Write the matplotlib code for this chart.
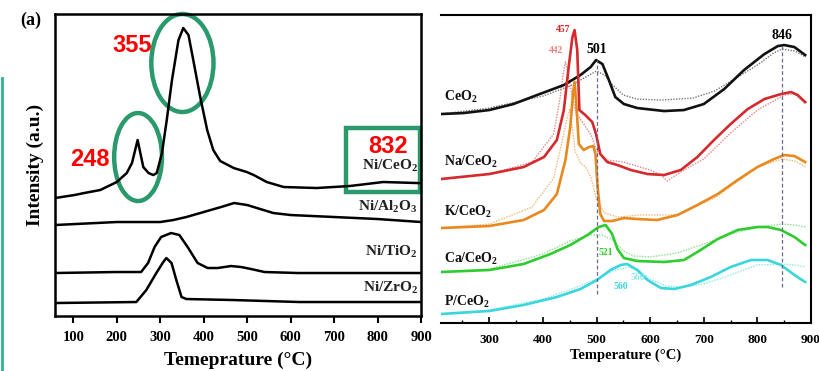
import matplotlib
matplotlib.use("Agg")
import matplotlib.pyplot as plt
from matplotlib.patches import Ellipse, Rectangle
from matplotlib.lines import Line2D
from matplotlib.ticker import MultipleLocator

plt.rcParams["font.family"] = ["Liberation Serif", "DejaVu Serif"]
plt.rcParams["font.weight"] = "bold"
plt.rcParams["mathtext.fontset"] = "custom"
plt.rcParams["mathtext.rm"] = "Liberation Serif:bold"
plt.rcParams["mathtext.default"] = "rm"

# ---- left panel: H2-TPR of Ni catalysts (T in degC, intensity a.u.) ----
ce_T = [58, 103, 125, 162, 200, 223, 235, 248, 261, 273, 284, 292, 304, 315, 327, 342, 353, 365, 376,
        392, 408, 422, 438, 469, 499, 515, 545, 584, 660, 736, 813, 890, 900]
ce_I = [118, 121, 123, 126, 134, 143, 153, 176, 149, 143, 141, 143, 163, 196, 236, 276, 288, 281, 256,
        219, 186, 166, 155, 148, 144, 141, 134, 129, 128, 130, 134, 133, 133]
al_T = [58, 200, 300, 330, 360, 400, 440, 470, 500, 530, 560, 600, 700, 800, 900]
al_I = [91, 94, 94, 96, 99, 104, 109, 113, 111, 107, 103, 101, 99, 97, 94]
ti_T = [58, 200, 256, 272, 287, 302, 325, 344, 363, 386, 409, 432, 463, 486, 509, 540, 617, 900]
ti_I = [43, 44, 44, 53, 69, 79, 83, 81, 69, 53, 48, 48, 50, 49, 47, 44, 43, 43]
zr_T = [58, 245, 268, 291, 307, 314, 326, 337, 349, 360, 467, 620, 900]
zr_I = [13, 14, 26, 43, 54, 58, 53, 36, 19, 17, 16, 14, 14]
left_names = ["Ni/CeO$_2$", "Ni/Al$_2$O$_3$", "Ni/TiO$_2$", "Ni/ZrO$_2$"]
left_label_I = [150, 109, 64, 28]
peak_marks = ["355", "248", "832"]

# ---- right panel: promoted CeO2 (solid and dotted runs) ----
ceo2_T = [210, 252, 300, 345, 389, 439, 470, 489, 499, 511, 523, 535, 551, 576, 626, 663, 700, 738, 775,
          813, 838, 850, 869, 889]
ceo2_I = [209, 210, 213, 219, 228, 238, 248, 256, 263, 259, 243, 226, 219, 215, 212, 213, 219, 234, 253,
          269, 277, 278, 276, 268]
ceo2d_T = [210, 300, 400, 450, 480, 500, 515, 530, 550, 575, 620, 680, 720, 760, 800, 830, 846, 870, 890]
ceo2d_I = [209, 215, 227, 237, 246, 252, 248, 238, 228, 224, 223, 225, 232, 245, 258, 270, 274, 272, 266]
na_T = [210, 300, 364, 402, 426, 439, 448, 455, 459, 464, 468, 479, 492, 499, 507, 520, 539, 564, 595,
        626, 657, 688, 719, 750, 782, 813, 844, 863, 875, 889]
na_I = [144, 149, 156, 166, 183, 213, 256, 286, 293, 273, 213, 208, 201, 189, 169, 161, 158, 153, 149,
        148, 153, 166, 183, 199, 214, 224, 229, 231, 228, 221]
nad_T = [210, 300, 380, 420, 432, 438, 442, 447, 455, 462, 475, 490, 500, 520, 550, 600, 620, 632, 645,
         670, 700, 750, 800, 850, 870, 890]
nad_I = [144, 149, 161, 189, 225, 250, 261, 250, 225, 210, 200, 188, 172, 163, 161, 153, 148, 142, 147,
         155, 164, 190, 213, 228, 229, 219]
k_T = [210, 300, 364, 402, 426, 442, 451, 456, 459, 463, 467, 476, 486, 494, 498, 502, 507, 514, 529,
       551, 576, 613, 651, 688, 726, 763, 800, 831, 850, 869, 889]
k_I = [95, 97, 103, 113, 129, 163, 196, 229, 241, 213, 179, 173, 176, 177, 169, 136, 109, 102, 102,
       105, 104, 103, 108, 118, 129, 143, 156, 164, 168, 167, 161]
kd_T = [210, 300, 380, 420, 435, 445, 450, 455, 460, 470, 480, 490, 500, 515, 540, 580, 650, 720, 800,
        846, 870, 890]
kd_I = [95, 99, 116, 145, 180, 205, 214, 195, 172, 160, 156, 145, 123, 110, 106, 108, 108, 125, 156,
        164, 162, 156]
ca_T = [210, 300, 364, 414, 451, 483, 504, 517, 529, 539, 551, 576, 626, 663, 688, 726, 763, 800, 819,
        844, 869, 889]
ca_I = [51, 53, 59, 69, 78, 88, 96, 98, 89, 74, 65, 62, 61, 63, 71, 84, 93, 96, 96, 93, 86, 78]
cad_T = [210, 300, 400, 450, 490, 510, 530, 550, 570, 600, 650, 700, 750, 800, 846, 870, 890]
cad_I = [51, 54, 69, 82, 88, 88, 83, 72, 67, 66, 70, 79, 89, 96, 99, 98, 96]
p_T = [210, 300, 364, 426, 470, 501, 526, 545, 557, 576, 595, 620, 645, 676, 713, 750, 788, 819, 844,
       869, 889]
p_I = [9, 12, 18, 26, 34, 43, 53, 58, 59, 53, 43, 35, 34, 38, 46, 56, 63, 63, 58, 48, 41]
pd_T = [210, 300, 400, 450, 500, 530, 560, 580, 600, 630, 660, 700, 750, 800, 846, 870, 890]
pd_I = [9, 13, 24, 33, 44, 52, 56, 52, 44, 37, 36, 39, 48, 58, 59, 58, 56]
right_names = ["CeO$_2$", "Na/CeO$_2$", "K/CeO$_2$", "Ca/CeO$_2$", "P/CeO$_2$"]
right_label_I = [226, 161, 111, 64, 21]
solid_colors = ["#111111", "#d42a2e", "#e8891e", "#2ecc2e", "#3ad6dc"]
dot_colors = ["#777777", "#e58585", "#f0b878", "#8ee08e", "#8ee8ea"]

fig = plt.figure(figsize=(8.19, 3.71), dpi=100)

# left panel
ax1 = fig.add_axes([0.0672, 0.1482, 0.4469, 0.814])
for T, I in [(ce_T, ce_I), (al_T, al_I), (ti_T, ti_I), (zr_T, zr_I)]:
    ax1.plot(T, I, color="black", lw=1.8, solid_joinstyle="round")
ax1.set_xlim(58, 900)
ax1.set_ylim(0, 302)
ax1.set_yticks([])
ax1.set_xticks(range(100, 901, 100))
ax1.tick_params(axis="x", direction="out", length=5, width=1.5, labelsize=10.5, pad=6)
for s in ax1.spines.values():
    s.set_linewidth(1.8)
ax1.set_xlabel("Temeprature (\u00b0C)", fontsize=14, fontweight="bold", labelpad=5)
ax1.set_ylabel("Intensity (a.u.)", fontsize=14, fontweight="bold", labelpad=8)
for name, y in zip(left_names, left_label_I):
    ax1.text(893, y, name, ha="right", va="center", fontsize=11, fontweight="bold", color="#222222")
fig.text(0.037, 0.945, "(a)", fontsize=13, fontweight="bold", ha="center", va="center")

green = "#2a9a6c"
ax1.add_patch(Ellipse((351, 253), 143, 98, fill=False, ec=green, lw=3.2, clip_on=False))
ax1.add_patch(Ellipse((249, 159), 110, 88, fill=False, ec=green, lw=3.2, clip_on=False))
ax1.add_patch(Rectangle((728, 124), 170, 64, fill=False, ec=green, lw=3.2, clip_on=False))
for txt, (x, y) in zip(peak_marks, [(236, 271), (139, 157), (824, 170)]):
    ax1.text(x, y, txt, color="#ff0000", fontsize=17, fontweight="bold",
             family=["Liberation Sans", "DejaVu Sans"], ha="center", va="center")

fig.add_artist(Line2D([0.002, 0.002], [0.0, 0.79], transform=fig.transFigure, color="#2bb58a", lw=2))

# right panel
ax2 = fig.add_axes([0.5385, 0.1294, 0.4518, 0.830])
solid = [(ceo2_T, ceo2_I), (na_T, na_I), (k_T, k_I), (ca_T, ca_I), (p_T, p_I)]
dotted = [(ceo2d_T, ceo2d_I), (nad_T, nad_I), (kd_T, kd_I), (cad_T, cad_I), (pd_T, pd_I)]
for (T, I), c in zip(dotted, dot_colors):
    ax2.plot(T, I, color=c, lw=1.0, ls=(0, (1, 1)))
for (T, I), c in zip(solid, solid_colors):
    ax2.plot(T, I, color=c, lw=1.9, solid_joinstyle="round")
ax2.plot([501, 501], [29, 263], color="#6a6a8c", lw=0.9, ls=(0, (3, 2)))
ax2.plot([846, 846], [36, 278], color="#6a6a8c", lw=0.9, ls=(0, (3, 2)))
ax2.set_xlim(210, 900)
ax2.set_ylim(0, 308)
ax2.set_yticks([])
ax2.spines["left"].set_visible(False)
for s in ["top", "right", "bottom"]:
    ax2.spines[s].set_linewidth(1.5)
ax2.xaxis.set_major_locator(MultipleLocator(100))
ax2.xaxis.set_minor_locator(MultipleLocator(50))
ax2.tick_params(axis="x", which="major", direction="in", length=4, width=1.2, labelsize=9.5, pad=8)
ax2.tick_params(axis="x", which="minor", direction="in", length=2.5, width=1)
ax2.set_xlabel("Temperature (\u00b0C)", fontsize=10.5, fontweight="bold", labelpad=2)
for name, y in zip(right_names, right_label_I):
    ax2.text(216, y, name, ha="left", va="center", fontsize=10, fontweight="bold", color="#111111")
ax2.text(501, 274, "501", ha="center", va="center", fontsize=10, fontweight="bold")
ax2.text(846, 288, "846", ha="center", va="center", fontsize=10, fontweight="bold")
ax2.text(452, 294, "457", ha="right", va="center", fontsize=7, color="#d42a2e")
ax2.text(438, 273, "442", ha="right", va="center", fontsize=7, color="#e58585")
ax2.text(518, 71, "521", ha="center", va="center", fontsize=7, color="#2ecc2e")
ax2.text(545, 37, "560", ha="center", va="center", fontsize=7, color="#3ad6dc")
ax2.text(577, 46, "560", ha="center", va="center", fontsize=7, color="#8ee8ea")

fig.savefig("out.png", dpi=100)
